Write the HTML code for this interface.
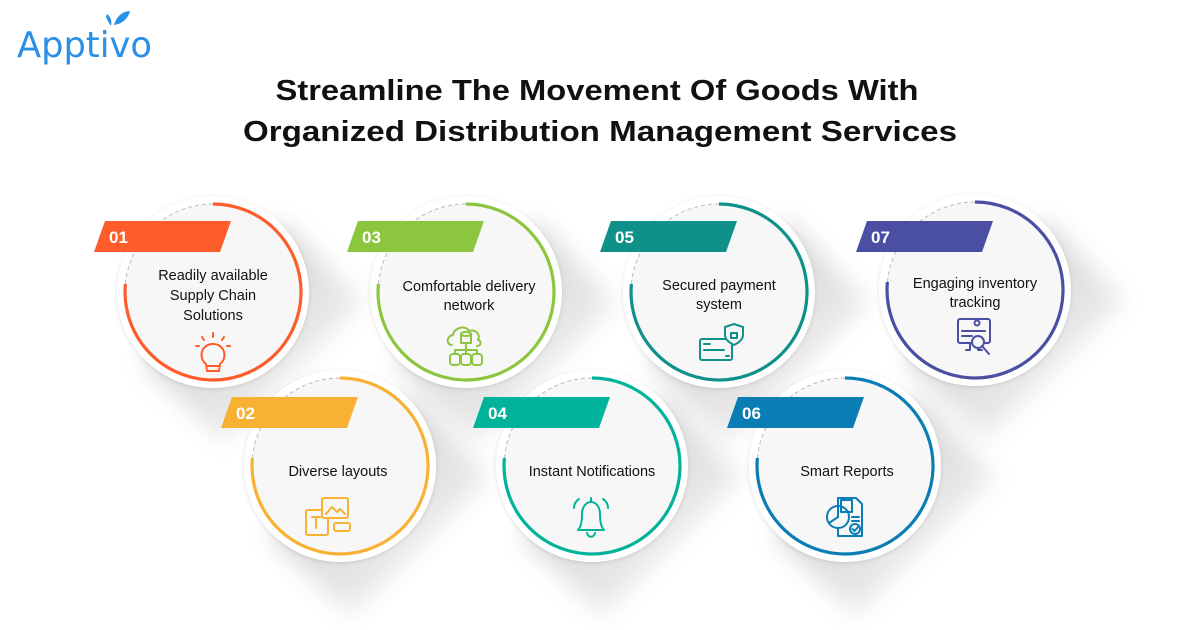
<!DOCTYPE html>
<html><head><meta charset="utf-8"><style>
html,body{margin:0;padding:0;background:#fff;}
svg{display:block;font-family:"Liberation Sans",sans-serif;}
</style></head><body>
<svg width="1200" height="630" viewBox="0 0 1200 630" xmlns="http://www.w3.org/2000/svg">
<defs>
<filter id="blur" x="-50%" y="-50%" width="200%" height="200%"><feGaussianBlur stdDeviation="12"/></filter>
<filter id="ds" x="-20%" y="-20%" width="140%" height="140%"><feDropShadow dx="0" dy="1" stdDeviation="2" flood-opacity="0.12"/></filter>
<linearGradient id="sh" x1="0" y1="0" x2="1" y2="1"><stop offset="0.2" stop-color="#000" stop-opacity="0.2"/><stop offset="1" stop-color="#000" stop-opacity="0"/></linearGradient>
<g id="base">
  <path d="M-70,70 L70,-70 L150,10 L10,150 Z" fill="url(#sh)" filter="url(#blur)"/>
  <circle r="96" fill="#ffffff" filter="url(#ds)"/>
  <circle r="88" fill="#f7f7f7"/>
  <path d="M0,-88 A88,88 0 1 1 -87.6,-8" fill="none" stroke-width="3.2" stroke="currentColor"/>
  <path d="M-87.6,-8 A88,88 0 0 1 0,-88" fill="none" stroke="#bbb" stroke-width="1" stroke-dasharray="4 3"/>
</g>
</defs>

<!-- logo -->
<text x="17" y="57" font-size="36" fill="#2a8fe6" textLength="135" lengthAdjust="spacingAndGlyphs" font-family="DejaVu Sans,sans-serif">Apptivo</text>
<path d="M114,25 C117,15 124,11 130,11 C128,19 122,24 114,25 Z" fill="#2a8fe6"/>
<path d="M111,26 C107,20 105,17 107,14 C111,17 112,21 111,26 Z" fill="#2a8fe6"/>

<!-- title -->
<text x="597" y="100" text-anchor="middle" font-size="29" font-weight="bold" fill="#111" textLength="643" lengthAdjust="spacingAndGlyphs">Streamline The Movement Of Goods With</text>
<text x="600" y="141" text-anchor="middle" font-size="29" font-weight="bold" fill="#111" textLength="714" lengthAdjust="spacingAndGlyphs">Organized Distribution Management Services</text>

<!-- top row circles -->
<use href="#base" x="213" y="292" style="color:#ff5c2b"/>
<use href="#base" x="466" y="292" style="color:#8cc63f"/>
<use href="#base" x="719" y="292" style="color:#0f9088"/>
<use href="#base" x="975" y="290" style="color:#4b4fa3"/>
<!-- bottom row -->
<use href="#base" x="340" y="466" style="color:#f9b134"/>
<use href="#base" x="592" y="466" style="color:#00b39a"/>
<use href="#base" x="845" y="466" style="color:#0a7db4"/>

<!-- tags -->
<g font-family="Liberation Sans Narrow,Liberation Sans,sans-serif" font-weight="bold" font-size="17" fill="#fff">
<polygon points="105,221 231,221 220,252 94,252" fill="#ff5c2b"/><text x="109" y="243">01</text>
<polygon points="358,221 484,221 473,252 347,252" fill="#8cc63f"/><text x="362" y="243">03</text>
<polygon points="611,221 737,221 726,252 600,252" fill="#0f9088"/><text x="615" y="243">05</text>
<polygon points="867,221 993,221 982,252 856,252" fill="#4b4fa3"/><text x="871" y="243">07</text>
<polygon points="232,397 358,397 347,428 221,428" fill="#f9b134"/><text x="236" y="419">02</text>
<polygon points="484,397 610,397 599,428 473,428" fill="#00b39a"/><text x="488" y="419">04</text>
<polygon points="738,397 864,397 853,428 727,428" fill="#0a7db4"/><text x="742" y="419">06</text>
</g>

<!-- labels -->
<g font-size="14.5" fill="#111" text-anchor="middle">
<text x="213" y="280">Readily available</text>
<text x="213" y="300">Supply Chain</text>
<text x="213" y="320">Solutions</text>
<text x="469" y="291">Comfortable delivery</text>
<text x="469" y="310">network</text>
<text x="719" y="290">Secured payment</text>
<text x="719" y="309">system</text>
<text x="975" y="288">Engaging inventory</text>
<text x="975" y="307">tracking</text>
<text x="338" y="476">Diverse layouts</text>
<text x="592" y="476">Instant Notifications</text>
<text x="847" y="476">Smart Reports</text>
</g>

<!-- icons -->
<g fill="none" stroke-width="2" stroke-linecap="round" stroke-linejoin="round">
 <g stroke="#ff5c2b">
  <path d="M206,364 C198,358 201,344 213,344 C225,344 228,358 220,364 L219,371 L207,371 Z"/>
  <path d="M207,366 H219"/>
  <path d="M213,333 V337 M202,337 L204,340 M224,337 L222,340 M196,346 H199 M227,346 H230"/>
 </g>
 <g stroke="#8cc63f">
  <path d="M452,345 C446,345 446,336 453,335 C454,327 466,325 469,331 C476,329 481,335 478,340 C482,341 481,346 477,346"/>
  <ellipse cx="466" cy="334" rx="5" ry="2"/><path d="M461,334 V343 H471 V334"/>
  <path d="M466,344 V350 M455,350 H477 M455,350 V354 M466,350 V354 M477,350 V354"/>
  <rect x="450" y="354" width="10" height="11" rx="3"/><rect x="461" y="354" width="10" height="11" rx="3"/><rect x="472" y="354" width="10" height="11" rx="3"/>
 </g>
 <g stroke="#0f9088">
  <rect x="700" y="339" width="32" height="21" rx="2"/>
  <path d="M704,344 H710 M704,350 H724 M726,356 H729"/>
  <path d="M734,324 L743,327 V335 C743,340 738,343 734,345 C730,343 725,340 725,335 V327 Z" fill="#f7f7f7"/>
  <rect x="731" y="333" width="6" height="5"/>
 </g>
 <g stroke="#4b4fa3">
  <rect x="958" y="319" width="32" height="24" rx="2"/>
  <path d="M970,343 V350 H966 M978,343 V350 H982"/>
  <path d="M962,331 H985 M962,336 H972"/>
  <circle cx="978" cy="342" r="6" fill="#f7f7f7"/><path d="M982,346 L989,354"/>
  <circle cx="977" cy="323" r="2.5"/>
 </g>
 <g stroke="#f9b134">
  <rect x="306" y="510" width="22" height="25" rx="2"/>
  <rect x="322" y="498" width="26" height="20" rx="2" fill="#f7f7f7"/>
  <path d="M326,514 L332,507 L337,512 L340,509 L345,514"/>
  <path d="M312,517 H320 M316,517 V528"/>
  <rect x="334" y="523" width="16" height="8" rx="2"/>
 </g>
 <g stroke="#00b39a">
  <path d="M578,530 C581,527 582,522 582,514 C582,507 586,502 591,502 C596,502 600,507 600,514 C600,522 601,527 604,530 Z"/>
  <path d="M591,498 V502 M587,533 C588,538 594,538 595,533"/>
  <path d="M574,508 C574,504 576,501 579,499 M608,508 C608,504 606,501 603,499"/>
 </g>
 <g stroke="#0a7db4">
  <path d="M838,498 H856 L862,504 V536 H838 Z"/>
  <circle cx="838" cy="517" r="11" fill="#f7f7f7"/>
  <path d="M838,506 V517 L829,523 M841,500 H852 V512 H841 Z"/>
  <circle cx="855" cy="529" r="5" fill="#f7f7f7"/><path d="M852.5,529 L854.5,531 L858,527"/>
  <path d="M852,517 H859 M852,521 H859"/>
 </g>
</g>
</svg>
</body></html>
